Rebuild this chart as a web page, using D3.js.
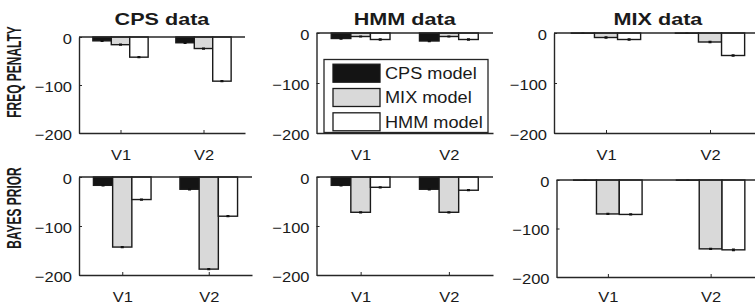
<!DOCTYPE html>
<html>
<head>
<meta charset="utf-8">
<script src="https://cdn.jsdelivr.net/npm/d3@7"></script>
<style>
  body { margin: 0; background: #fff; }
  svg { display: block; font-family: "Liberation Sans", Arial, sans-serif; }
  .wide { transform-box: fill-box; transform-origin: center; transform: scaleX(1.1); }
  .wide_r { transform-box: fill-box; transform-origin: right; transform: scaleX(1.1); }
  .title { transform-box: fill-box; transform-origin: center; transform: scaleX(1.27); }
</style>
</head>
<body>
<script>
// categories
var groups = ["V1", "V2"];
var models = ["CPS model", "MIX model", "HMM model"];
var datasets = ["CPS data", "HMM data", "MIX data"];
var row_names = ["FREQ PENALTY", "BAYES PRIOR"];
var y_ticks = [0, -100, -200];

// values: one row per model (CPS, MIX, HMM), one column per group (V1, V2)
var freq_cps = [[-8, -12], [-16, -24], [-42, -92]];
var freq_hmm = [[-11, -16], [-7, -7], [-13, -13]];
var freq_mix = [[-0.5, -0.5], [-9, -18], [-13, -45]];
var bayes_cps = [[-17, -25], [-143, -188], [-46, -80]];
var bayes_hmm = [[-17, -25], [-72, -72], [-21, -27]];
var bayes_mix = [[-0.5, -0.5], [-70, -142], [-71, -144]];

// standard errors, same layout
var freq_cps_err = [[1, 1], [1, 1], [1, 1]];
var freq_hmm_err = [[1, 1], [0.5, 0.5], [1, 1]];
var freq_mix_err = [[0, 0], [1, 1], [1, 1]];
var bayes_cps_err = [[1, 1], [1, 1], [1, 1]];
var bayes_hmm_err = [[1, 1], [1, 1], [1, 1]];
var bayes_mix_err = [[0, 0], [1, 1], [1, 1.5]];

var fills = ["#141414", "#d9d9d9", "#ffffff"];
var ink = "#262626";

var width = 755,
    height = 306;

// panel boxes in pixels
var panels = [
  {data: freq_cps, err: freq_cps_err, left: 79, right: 245, top: 37, bottom: 133, row: 0, col: 0, pad: 16},
  {data: freq_hmm, err: freq_hmm_err, left: 316.5, right: 493, top: 33, bottom: 133, row: 0, col: 1, pad: 16},
  {data: freq_mix, err: freq_mix_err, left: 554, right: 762, top: 33, bottom: 133, row: 0, col: 2, pad: 16},
  {data: bayes_cps, err: bayes_cps_err, left: 79, right: 252, top: 177, bottom: 275, row: 1, col: 0, pad: 16},
  {data: bayes_hmm, err: bayes_hmm_err, left: 316.5, right: 493, top: 177, bottom: 275, row: 1, col: 1, pad: 16},
  {data: bayes_mix, err: bayes_mix_err, left: 556.5, right: 762, top: 180, bottom: 277, row: 1, col: 2, pad: 14}
];

var bar_w = 0.222;

var svg = d3.select("body").append("svg")
    .attr("width", width)
    .attr("height", height);

function draw_panel(p){
  var x = d3.scaleLinear().domain([0.5, 2.5]).range([p.left, p.right]);
  var y = d3.scaleLinear().domain([-200, 0]).range([p.bottom, p.top]);
  var g = svg.append("g");

  // bars
  models.forEach(function(m, mi){
    var vals = p.data[mi];
    g.selectAll(null)
      .data(vals)
      .enter().append("rect")
        .attr("x", function(d, i){ return x(i + 1 + (mi - 1) * bar_w - bar_w / 2); })
        .attr("width", x(bar_w) - x(0))
        .attr("y", y(0))
        .attr("height", function(d){ return y(d) - y(0); })
        .attr("fill", fills[mi])
        .attr("stroke", "#1a1a1a")
        .attr("stroke-width", 1.4);

    // error bars
    g.selectAll(null)
      .data(vals)
      .enter().append("path")
        .attr("d", function(d, i){
          var cx = x(i + 1 + (mi - 1) * bar_w);
          var e = p.err[mi][i];
          return "M" + cx + "," + y(d - e) + "V" + y(d + e) +
                 "M" + (cx - 1.5) + "," + y(d - e) + "h3" +
                 "M" + (cx - 1.5) + "," + y(d + e) + "h3";
        })
        .attr("stroke", "#111")
        .attr("stroke-width", 1.3)
        .attr("fill", "none");
  });

  // zero baseline
  g.append("line")
    .attr("x1", p.left).attr("x2", p.right)
    .attr("y1", y(0)).attr("y2", y(0))
    .attr("stroke", ink).attr("stroke-width", 1.4);

  var y_axis = g.append("g")
    .attr("transform", "translate(" + p.left + ",0)")
    .call(d3.axisLeft(y).tickValues(y_ticks).tickSize(-3).tickSizeOuter(0).tickPadding(7));

  var x_axis = g.append("g")
    .attr("transform", "translate(0," + p.bottom + ")")
    .call(d3.axisBottom(x).tickValues([1, 2])
      .tickFormat(function(d){ return groups[d - 1]; })
      .tickSize(-3).tickSizeOuter(0).tickPadding(p.pad));

  [y_axis, x_axis].forEach(function(a){
    a.select(".domain").attr("stroke", ink).attr("stroke-width", 1.4);
    a.selectAll(".tick line").attr("stroke", ink).attr("stroke-width", 1);
    a.selectAll("text")
      .attr("fill", "#1a1a1a")
      .style("font-size", "15px")
      .style("font-family", "Liberation Sans, Arial, sans-serif");
  });
  y_axis.selectAll("text").attr("class", "wide_r").attr("dy", "0.4em");
  x_axis.selectAll("text").attr("class", "wide");

  if (p.row === 0){
    svg.append("text")
      .attr("class", "title")
      .attr("x", (p.left + p.right) / 2)
      .attr("y", 25)
      .attr("text-anchor", "middle")
      .style("font-size", "17px")
      .style("font-weight", "bold")
      .attr("fill", "#1a1a1a")
      .text(datasets[p.col]);
  }
}

panels.forEach(draw_panel);

// row labels
var row_centers = [[14, 72], [14, 208]];
row_names.forEach(function(r, i){
  svg.append("g")
    .attr("transform", "translate(" + row_centers[i][0] + "," + row_centers[i][1] + ") scale(1.7,1) rotate(-90)")
  .append("text")
    .attr("text-anchor", "middle")
    .attr("dy", "0.36em")
    .style("font-size", "12px")
    .style("font-weight", "bold")
    .attr("fill", "#1a1a1a")
    .text(r);
});

// legend in the HMM data panel
var legend = svg.append("g");
legend.append("rect")
  .attr("x", 324).attr("y", 59.5)
  .attr("width", 164).attr("height", 73)
  .attr("fill", "#fff")
  .attr("stroke", ink).attr("stroke-width", 1.3);

var legend_y = d3.scaleBand().domain(models).range([63, 132]).paddingInner(0.26).paddingOuter(0.05);

legend.selectAll(".swatch")
  .data(models)
  .enter().append("rect")
    .attr("class", "swatch")
    .attr("x", 333)
    .attr("y", function(d){ return legend_y(d); })
    .attr("width", 47)
    .attr("height", legend_y.bandwidth())
    .attr("fill", function(d, i){ return fills[i]; })
    .attr("stroke", "#1a1a1a")
    .attr("stroke-width", 1.3);

legend.selectAll(".label")
  .data(models)
  .enter().append("text")
    .attr("class", "label")
    .attr("x", 385)
    .attr("y", function(d){ return legend_y(d) + legend_y.bandwidth() / 2; })
    .attr("dy", "0.36em")
    .style("font-size", "16.5px")
    .style("transform-box", "fill-box")
    .style("transform-origin", "left")
    .style("transform", "scaleX(1.1)")
    .attr("fill", "#1a1a1a")
    .text(function(d){ return d; });
</script>
</body>
</html>
